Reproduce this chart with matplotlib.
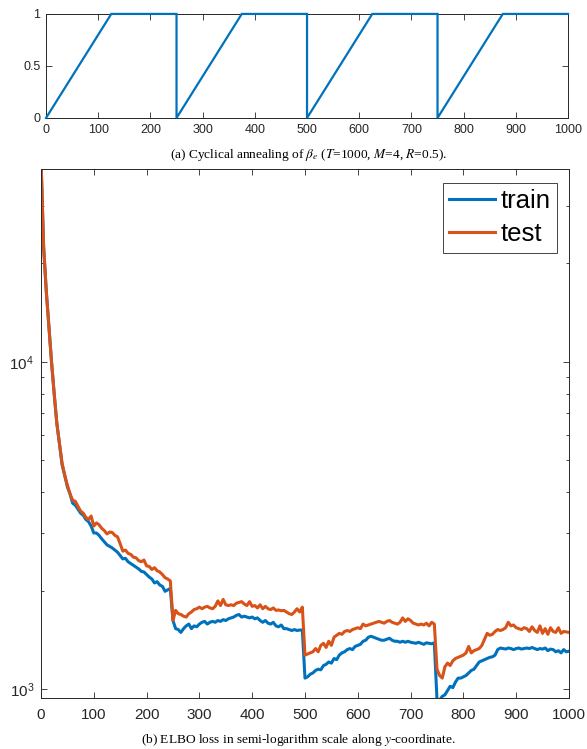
# -*- coding: utf-8 -*-
"""
Cyclical annealing schedule and ELBO loss (semi-log)
"""
import numpy as np
import matplotlib.pyplot as plt
from matplotlib.ticker import LogLocator, NullFormatter
###############################################################################
plt.rcParams['font.family'] = ['Liberation Sans', 'DejaVu Sans']
plt.rcParams['mathtext.fontset'] = 'stix'

BLUE = '#0072BD'
ORANGE = '#D95319'
AXC = '#262626'

# beta schedule: T=1000, M=4, R=0.5 (corner points of the ramps)
beta_iter = [0, 125, 250, 250, 375, 500, 500, 625, 750, 750, 875, 1000]
beta_val = [0, 1, 1, 0, 1, 1, 0, 1, 1, 0, 1, 1]

# ELBO loss, read every 5 iterations
iters = list(range(0, 1001, 5))

train_loss = [
    42000, 22500, 16500, 12800, 10000, 8000, 6500, 5600, 4850, 4500,      # 0-45
    4150, 3950, 3700, 3650, 3550, 3450, 3400, 3300, 3250, 3150,           # 50-95
    3000, 3000, 2950, 2880, 2820, 2760, 2730, 2700, 2660, 2620,           # 100-145
    2560, 2500, 2510, 2450, 2420, 2390, 2360, 2330, 2290, 2280,           # 150-195
    2240, 2200, 2170, 2110, 2130, 2080, 2060, 1990, 2010, 2030,           # 200-245
    1620, 1530, 1520, 1490, 1530, 1560, 1580, 1530, 1560, 1550,           # 250-295
    1580, 1600, 1610, 1580, 1600, 1610, 1600, 1620, 1610, 1630,           # 300-345
    1620, 1640, 1650, 1660, 1680, 1690, 1660, 1670, 1660, 1650,           # 350-395
    1660, 1640, 1650, 1620, 1600, 1620, 1590, 1580, 1600, 1560,           # 400-445
    1550, 1570, 1530, 1530, 1520, 1510, 1520, 1510, 1515, 1515,           # 450-495
    1080, 1090, 1110, 1120, 1140, 1150, 1145, 1180, 1190, 1210,           # 500-545
    1200, 1240, 1230, 1270, 1290, 1300, 1320, 1330, 1320, 1350,           # 550-595
    1360, 1370, 1400, 1410, 1440, 1450, 1440, 1430, 1420, 1410,           # 600-645
    1410, 1420, 1430, 1410, 1400, 1400, 1390, 1400, 1390, 1400,           # 650-695
    1390, 1385, 1380, 1390, 1380, 1370, 1385, 1380, 1375, 1385,           # 700-745
    930, 925, 950, 960, 990, 1020, 1010, 1050, 1080, 1080,                # 750-795
    1090, 1100, 1120, 1140, 1150, 1180, 1210, 1220, 1230, 1240,           # 800-845
    1250, 1255, 1270, 1320, 1335, 1330, 1325, 1335, 1330, 1320,           # 850-895
    1330, 1335, 1325, 1330, 1335, 1330, 1340, 1330, 1320, 1330,           # 900-945
    1325, 1335, 1310, 1325, 1320, 1300, 1310, 1290, 1320, 1300,           # 950-995
    1305]                                                                 # 1000

test_loss = [
    42000, 22500, 16500, 12800, 10000, 8000, 6500, 5650, 4900, 4500,      # 0-45
    4200, 3950, 3780, 3750, 3620, 3500, 3450, 3350, 3300, 3380,           # 50-95
    3150, 3220, 3180, 3100, 3050, 2980, 3020, 3010, 2950, 2920,           # 100-145
    2780, 2640, 2660, 2600, 2580, 2530, 2520, 2470, 2450, 2480,           # 150-195
    2380, 2370, 2320, 2350, 2300, 2280, 2240, 2190, 2170, 2140,           # 200-245
    1620, 1740, 1700, 1690, 1670, 1660, 1700, 1720, 1750, 1760,           # 250-295
    1780, 1760, 1780, 1790, 1770, 1760, 1790, 1860, 1800, 1880,           # 300-345
    1810, 1800, 1810, 1800, 1830, 1840, 1850, 1820, 1800, 1850,           # 350-395
    1790, 1800, 1770, 1810, 1760, 1790, 1760, 1750, 1770, 1740,           # 400-445
    1745, 1735, 1740, 1720, 1700, 1690, 1720, 1760, 1720, 1780,           # 450-495
    1270, 1280, 1290, 1300, 1330, 1300, 1360, 1380, 1340, 1400,           # 500-545
    1360, 1440, 1460, 1480, 1470, 1500, 1510, 1500, 1520, 1530,           # 550-595
    1540, 1530, 1580, 1560, 1570, 1580, 1590, 1600, 1610, 1600,           # 600-645
    1590, 1610, 1620, 1600, 1590, 1580, 1600, 1650, 1610, 1640,           # 650-695
    1620, 1590, 1580, 1570, 1580, 1570, 1590, 1560, 1600, 1580,           # 700-745
    1150, 1100, 1080, 1170, 1200, 1180, 1220, 1240, 1250, 1260,           # 750-795
    1270, 1290, 1350, 1290, 1310, 1320, 1330, 1360, 1420, 1480,           # 800-845
    1460, 1470, 1500, 1520, 1510, 1520, 1540, 1600, 1560, 1570,           # 850-895
    1540, 1530, 1520, 1540, 1530, 1500, 1550, 1510, 1490, 1560,           # 900-945
    1480, 1530, 1470, 1540, 1500, 1490, 1540, 1480, 1500, 1495,           # 950-995
    1490]                                                                 # 1000

caption_a = r'(a) Cyclical annealing of $\beta_e$ ($T$=1000, $M$=4, $R$=0.5).'
caption_b = r'(b) ELBO loss in semi-logarithm scale along $y$-coordinate.'
###############################################################################
fig = plt.figure(figsize=(5.87, 7.49), dpi=100)

def style_axes(ax, size, xpad, ypad):
    for s in ax.spines.values():
        s.set_color(AXC)
        s.set_linewidth(0.7)
    ax.tick_params(which='both', direction='in', top=True, right=True,
                   colors=AXC, labelsize=size, width=0.6)
    ax.tick_params(which='major', length=4)
    ax.tick_params(which='minor', length=2.5)
    ax.tick_params(axis='x', pad=xpad)
    ax.tick_params(axis='y', pad=ypad)

# (a) annealing schedule
ax1 = fig.add_axes([0.0784, 0.8425, 0.8893, 0.1389])
ax1.plot(beta_iter, beta_val, color=BLUE, lw=1.6, solid_joinstyle='miter',
         clip_on=False, zorder=5)
ax1.set_xlim(0, 1000)
ax1.set_ylim(0, 1)
ax1.set_xticks(range(0, 1001, 100))
ax1.set_yticks([0, 0.5, 1])
ax1.set_yticklabels(['0', '0.5', '1'])
style_axes(ax1, 9, 4.5, 4)
fig.text(0.525, 0.793, caption_a, ha='center', va='center',
         family=['Liberation Serif'], fontsize=9.6, color='black')

# (b) ELBO loss
ax2 = fig.add_axes([0.0698, 0.0681, 0.8995, 0.7063])
ax2.plot(iters, train_loss, color=BLUE, lw=2.2, label='train')
ax2.plot(iters, test_loss, color=ORANGE, lw=2.2, label='test')
ax2.set_yscale('log')
ax2.set_xlim(0, 1000)
ax2.set_ylim(939, 38900)
ax2.set_xticks(range(0, 1001, 100))
ax2.yaxis.set_minor_locator(LogLocator(base=10, subs=np.arange(2, 10)))
ax2.yaxis.set_minor_formatter(NullFormatter())
style_axes(ax2, 11, 7, 5)
leg = ax2.legend(loc='upper right', bbox_to_anchor=(0.977, 0.9735),
                 borderaxespad=0, fontsize=18.5, fancybox=False, framealpha=1,
                 edgecolor=AXC, handlelength=1.8, handletextpad=0.2,
                 labelspacing=0.35, borderpad=0.25)
leg.get_frame().set_linewidth(0.6)
fig.text(0.508, 0.012, caption_b, ha='center', va='center',
         family=['Liberation Serif'], fontsize=9.6, color='black')
###############################################################################
fig.savefig('out.png', dpi=100)
